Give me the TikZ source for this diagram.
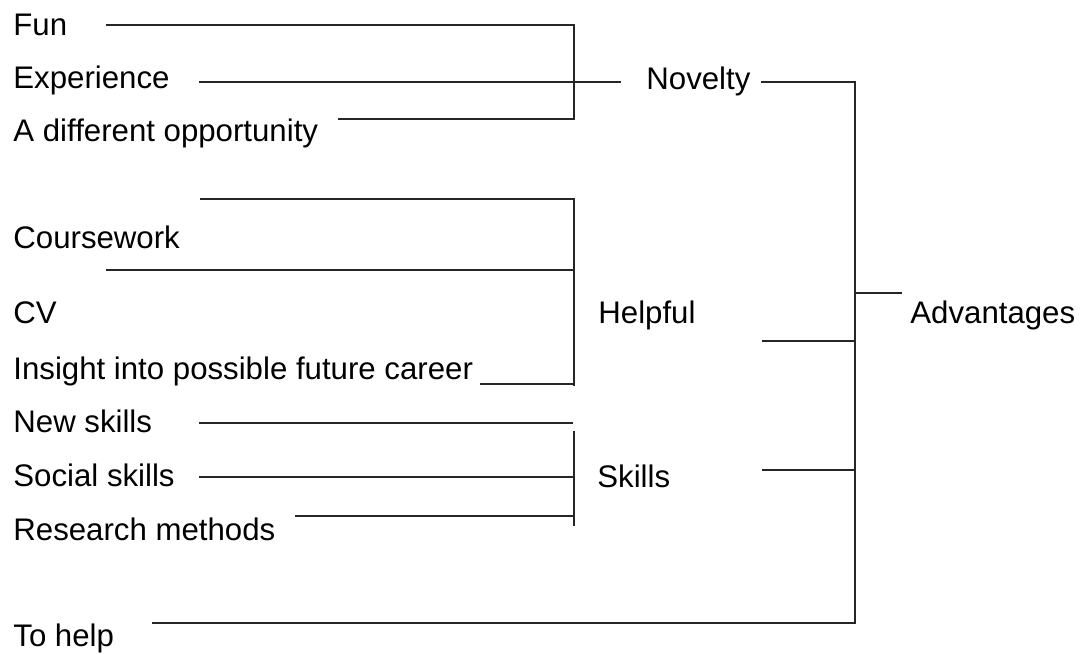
\documentclass[tikz,border=0pt]{standalone}
\usepackage{fontspec}
\setmainfont[Ligatures=NoCommon]{Liberation Sans}
\begin{document}
\begin{tikzpicture}[x=0.5pt,y=-0.5pt,
  lbl/.style={anchor=base west,inner sep=0pt,font=\fontsize{15.6}{18}\selectfont},
  ln/.style={draw=black!85,line width=1pt}]
\useasboundingbox (0,0) rectangle (1080,653);
% text nodes
\node[lbl] (fun) at (13,35) {Fun};
\node[lbl] (exp) at (13,88) {Experience};
\node[lbl] (diff) at (13,141) {A different opportunity};
\node[lbl] (cw) at (13,248) {Coursework};
\node[lbl] (cv) at (13,323) {CV};
\node[lbl] (ins) at (13,379) {Insight into possible future career};
\node[lbl] (news) at (13,432) {New skills};
\node[lbl] (soc) at (13,486) {Social skills};
\node[lbl] (res) at (13,540) {Research methods};
\node[lbl] (help) at (13,646) {To help};
\node[lbl] (nov) at (646,89) {Novelty};
\node[lbl] (hlp) at (598,323) {Helpful};
\node[lbl] (skl) at (597,487) {Skills};
\node[lbl] (adv) at (910,323) {Advantages};
% coordinates
\coordinate (funA) at (106,25);
\coordinate (nvTop) at (574,25);
\coordinate (nvBot) at (574,119);
\coordinate (diffA) at (338,119);
\coordinate (expA) at (199,82);
\coordinate (expB) at (621,82);
\coordinate (novR) at (761,82);
\coordinate (advTop) at (855,82);
\coordinate (advBot) at (855,623);
\coordinate (helpA) at (152,623);
\coordinate (hTopA) at (200,199);
\coordinate (hTop) at (574,199);
\coordinate (hBot) at (574,386);
\coordinate (insA) at (480,384);
\coordinate (insB) at (574,384);
\coordinate (cwA) at (106,270);
\coordinate (cwB) at (574,270);
\coordinate (hlpR) at (762,341);
\coordinate (hlpJ) at (855,341);
\coordinate (nsA) at (199,423);
\coordinate (nsB) at (573,423);
\coordinate (sTop) at (574,431);
\coordinate (sBot) at (574,526);
\coordinate (socA) at (199,477);
\coordinate (socB) at (574,477);
\coordinate (resA) at (295,516);
\coordinate (resB) at (574,516);
\coordinate (sklR) at (762,470);
\coordinate (sklJ) at (855,470);
\coordinate (advJ) at (855,293);
\coordinate (advA) at (902,293);
% Novelty bracket
\draw[ln] (funA) -- (nvTop) -- (nvBot) -- (diffA);
\draw[ln] (expA) -- (expB);
% Helpful bracket
\draw[ln] (hTopA) -- (hTop) -- (hBot);
\draw[ln] (insA) -- (insB);
\draw[ln] (cwA) -- (cwB);
% Skills bracket
\draw[ln] (nsA) -- (nsB);
\draw[ln] (sTop) -- (sBot);
\draw[ln] (socA) -- (socB);
\draw[ln] (resA) -- (resB);
% Advantages bracket
\draw[ln] (novR) -- (advTop) -- (advBot) -- (helpA);
\draw[ln] (hlpR) -- (hlpJ);
\draw[ln] (sklR) -- (sklJ);
\draw[ln] (advJ) -- (advA);
\end{tikzpicture}
\end{document}
